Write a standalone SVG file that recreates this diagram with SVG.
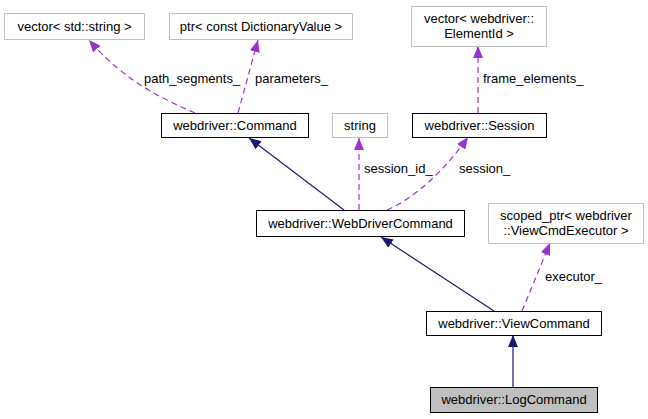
<svg xmlns="http://www.w3.org/2000/svg" width="648" height="419" viewBox="0 0 648 419">
<style>
text{font-family:"Liberation Sans",Arial,sans-serif;font-size:13px;fill:#000;text-anchor:middle}
.lbl{text-anchor:start}
.box{fill:#fff;stroke:#000;stroke-width:1}
.ext{fill:#fff;stroke:#bfbfbf;stroke-width:1}
.cur{fill:#bfbfbf;stroke:#000;stroke-width:1}
.inh{fill:none;stroke:#191970;stroke-width:1.2}
.use{fill:none;stroke:#9a32cd;stroke-width:1.2;stroke-dasharray:6,4}
</style>
<defs>
<marker id="ah" viewBox="0 0 12 10" refX="12" refY="5" markerWidth="12" markerHeight="10" markerUnits="userSpaceOnUse" orient="auto"><path d="M0,0 L12,5 L0,10 Z" fill="#191970"/></marker>
<marker id="ap" viewBox="0 0 12 10" refX="12" refY="5" markerWidth="12" markerHeight="10" markerUnits="userSpaceOnUse" orient="auto"><path d="M0,0 L12,5 L0,10 Z" fill="#9a32cd"/></marker>
</defs>
<g id="connectors">
<path class="inh" d="M344,210 L249,138" marker-end="url(#ah)"/>
<path class="inh" d="M494,311 L381,237" marker-end="url(#ah)"/>
<path class="inh" d="M513,387 L513,335" marker-end="url(#ah)"/>
<path class="use" d="M195,113 C165,100 125,82 89,40" marker-end="url(#ap)"/>
<path class="use" d="M238,113 L258,40" marker-end="url(#ap)"/>
<path class="use" d="M478,113 L478,46" marker-end="url(#ap)"/>
<path class="use" d="M359,210 L359,138" marker-end="url(#ap)"/>
<path class="use" d="M387,210 C415,198 445,170 468,137" marker-end="url(#ap)"/>
<path class="use" d="M522,311 L550,243" marker-end="url(#ap)"/>
<text class="lbl" x="144" y="83">path_segments_</text>
<text class="lbl" x="255" y="83">parameters_</text>
<text class="lbl" x="483" y="83">frame_elements_</text>
<text class="lbl" x="364" y="173">session_id_</text>
<text class="lbl" x="459" y="173">session_</text>
<text class="lbl" x="545" y="281">executor_</text>
</g>
<g id="vec_string"><rect class="ext" x="4.5" y="13.5" width="140" height="26"/><text x="74.5" y="30.5">vector&lt; std::string &gt;</text></g>
<g id="ptr_dict"><rect class="ext" x="169.5" y="13.5" width="183" height="26"/><text x="261" y="30.5">ptr&lt; const DictionaryValue &gt;</text></g>
<g id="vec_elem"><rect class="ext" x="411.5" y="6.5" width="135" height="40"/><text x="479" y="23">vector&lt; webdriver::</text><text x="479" y="38">ElementId &gt;</text></g>
<g id="command"><rect class="box" x="161.5" y="113.5" width="147" height="24"/><text x="235" y="129.5">webdriver::Command</text></g>
<g id="string"><rect class="ext" x="332.5" y="113.5" width="55" height="24"/><text x="360" y="129.5">string</text></g>
<g id="session"><rect class="box" x="412.5" y="113.5" width="134" height="24"/><text x="479.5" y="129.5">webdriver::Session</text></g>
<g id="webdrivercommand"><rect class="box" x="256.5" y="210.5" width="208" height="26"/><text x="360.5" y="227.5">webdriver::WebDriverCommand</text></g>
<g id="scoped_ptr"><rect class="ext" x="488.5" y="203.5" width="155" height="40"/><text x="566" y="220">scoped_ptr&lt; webdriver</text><text x="566" y="235">::ViewCmdExecutor &gt;</text></g>
<g id="viewcommand"><rect class="box" x="426.5" y="311.5" width="175" height="24"/><text x="514" y="327.5">webdriver::ViewCommand</text></g>
<g id="logcommand"><rect class="cur" x="430.5" y="387.5" width="167" height="25"/><text x="514" y="404">webdriver::LogCommand</text></g>
</svg>
